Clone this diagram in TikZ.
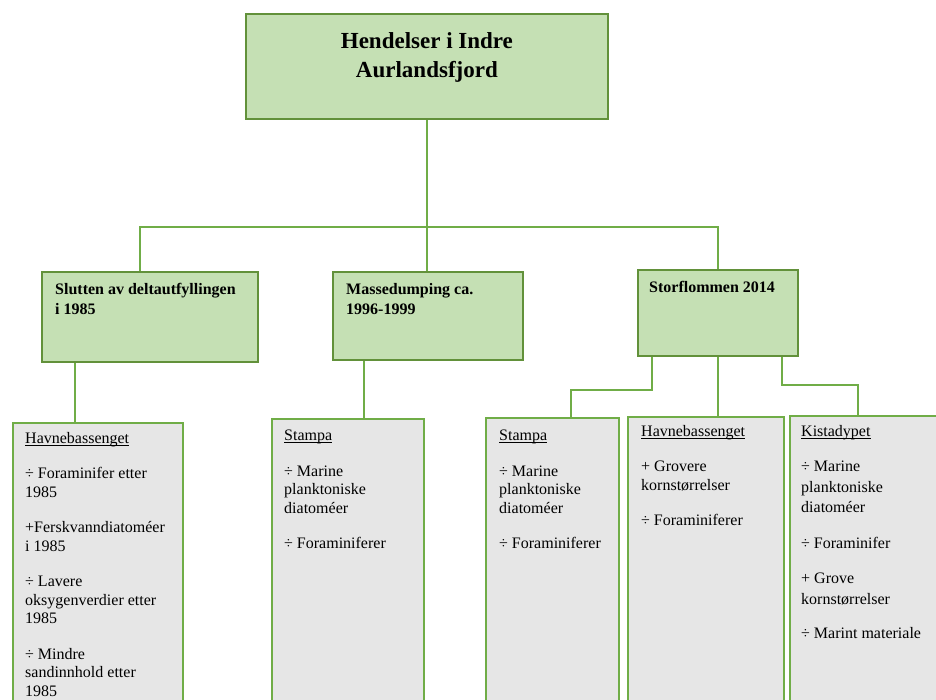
\documentclass[tikz,border=0pt]{standalone}
\usepackage{fontspec}
\setmainfont{Liberation Serif}
\usetikzlibrary{positioning}

\definecolor{boxgreen}{RGB}{197,224,180}
\definecolor{edgegreen}{RGB}{98,145,58}
\definecolor{linkgreen}{RGB}{112,173,71}
\definecolor{boxgray}{RGB}{230,230,230}

% underlined site name, rule just under the baseline
\newcommand{\sitename}[1]{\setbox0=\hbox{#1}\rlap{\rule[-2pt]{\wd0}{0.8pt}}\box0}

\begin{document}
\begin{tikzpicture}[x=1pt, y=-1pt,
  event/.style={draw=edgegreen, fill=boxgreen, line width=1.8pt, anchor=north west, inner sep=0pt},
  finding/.style={draw=linkgreen, fill=boxgray, line width=1.5pt, anchor=north west, inner sep=0pt},
  titletext/.style={inner sep=0pt, align=center, font=\bfseries\fontsize{23}{29}\selectfont},
  eventtext/.style={inner sep=0pt, align=left, font=\bfseries\fontsize{16}{19.5}\selectfont},
  findtext/.style={inner sep=0pt, align=left, font=\fontsize{16}{18.5}\selectfont},
  link/.style={draw=linkgreen, line width=2.4pt}]
  \useasboundingbox (0,0) rectangle (936,699);
  \clip (0,0) rectangle (936,699);

  % main event and the three events below it
  \node[event, minimum width=362pt, minimum height=105pt] (top) at (245,13) {};
  \node[event, minimum width=216pt, minimum height=90pt] (slutt) at (41,271) {};
  \node[event, minimum width=190pt, minimum height=88pt] (mass) at (332,271) {};
  \node[event, minimum width=160pt, minimum height=86pt] (storm) at (637,269) {};

  % findings per site
  \node[finding, minimum width=170pt, minimum height=320pt] (havn1) at (12,422) {};
  \node[finding, minimum width=152pt, minimum height=320pt] (stampa1) at (271,418) {};
  \node[finding, minimum width=133pt, minimum height=320pt] (stampa2) at (485,417) {};
  \node[finding, minimum width=156pt, minimum height=320pt] (havn2) at (627,416) {};
  \node[finding, minimum width=170pt, minimum height=320pt] (kista) at (789,415) {};

  % connectors
  \coordinate (fork) at (426,227);
  \draw[link] (top.south) -- (top.south |- mass.north);
  \draw[link] ([xshift=-10pt]slutt.north) |- (fork) -| (storm.north);
  \draw[link] ([xshift=34pt]slutt.south west) -- ([xshift=63pt]havn1.north west);
  \draw[link] ([xshift=32pt]mass.south west) -- ([xshift=93pt]stampa1.north west);
  \draw[link] ([xshift=15pt]storm.south west) -- ++(0,33) -| ([xshift=86pt]stampa2.north west);
  \draw[link] (storm.south) -- (storm.south |- havn2.north);
  \draw[link] ([xshift=-17pt]storm.south east) -- ++(0,28) -| ([xshift=69pt]kista.north west);

  % texts
  \node[titletext, below=19pt of top.north] (toptxt) {Hendelser i Indre\\Aurlandsfjord};
  \node[eventtext, below right=12.5pt and 14pt of slutt.north west] (sluttxt)
    {Slutten av deltautfyllingen\\i 1985};
  \node[eventtext, below right=12.5pt and 14pt of mass.north west] (masstxt)
    {Massedumping ca.\\1996-1999};
  \node[eventtext, below right=12.5pt and 12pt of storm.north west] (stormtxt)
    {Storflommen 2014};

  \node[findtext, below right=10pt and 13pt of havn1.north west] (havn1txt)
    {\sitename{Havnebassenget}\\[17pt]
     ÷ Foraminifer etter\\1985\\[17pt]
     +Ferskvanndiatoméer\\i 1985\\[17pt]
     ÷ Lavere\\oksygenverdier etter\\1985\\[17pt]
     ÷ Mindre\\sandinnhold etter\\1985};
  \node[findtext, below right=12pt and 13pt of stampa1.north west] (stampa1txt)
    {\sitename{Stampa}\\[17pt]
     ÷ Marine\\planktoniske\\diatoméer\\[17pt]
     ÷ Foraminiferer};
  \node[findtext, below right=13pt and 14pt of stampa2.north west] (stampa2txt)
    {\sitename{Stampa}\\[17pt]
     ÷ Marine\\planktoniske\\diatoméer\\[17pt]
     ÷ Foraminiferer};
  \node[findtext, below right=9pt and 14pt of havn2.north west] (havn2txt)
    {\sitename{Havnebassenget}\\[17pt]
     + Grovere\\kornstørrelser\\[17pt]
     ÷ Foraminiferer};
  \node[findtext, font=\fontsize{16}{20.5}\selectfont, below right=10pt and 12pt of kista.north west] (kistatxt)
    {\sitename{Kistadypet}\\[15pt]
     ÷ Marine\\planktoniske\\diatoméer\\[15pt]
     ÷ Foraminifer\\[15pt]
     + Grove\\kornstørrelser\\[14pt]
     ÷ Marint materiale};
\end{tikzpicture}
\end{document}
